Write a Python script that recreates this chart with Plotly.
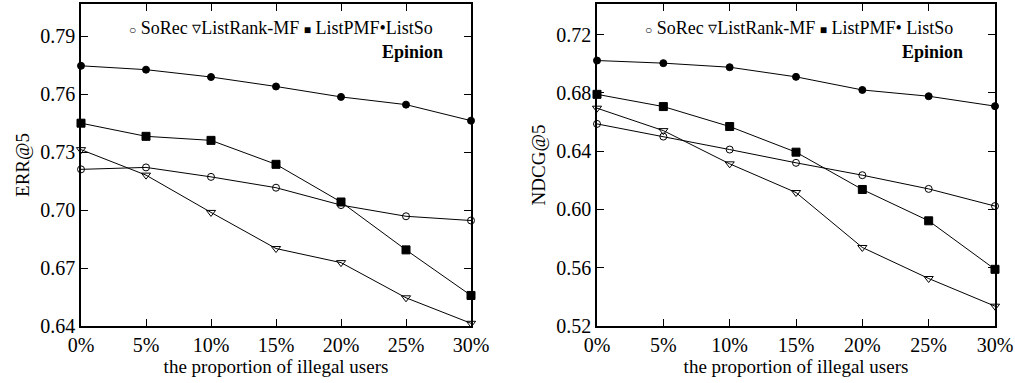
import plotly.graph_objects as go
from plotly.subplots import make_subplots

# Proportion of illegal users (x axis)
proportions = [0, 5, 10, 15, 20, 25, 30]
tick_labels = ["0%", "5%", "10%", "15%", "20%", "25%", "30%"]

# ERR@5 on Epinion
err_sorec = [0.7211, 0.7221, 0.7172, 0.7116, 0.7026, 0.6968, 0.6946]
err_listrank = [0.7313, 0.7181, 0.6988, 0.6801, 0.6728, 0.6546, 0.6414]
err_listpmf = [0.7450, 0.7382, 0.7361, 0.7237, 0.7042, 0.6794, 0.6558]
err_listso = [0.7747, 0.7727, 0.7689, 0.7640, 0.7586, 0.7546, 0.7463]

# NDCG@5 on Epinion
ndcg_sorec = [0.6587, 0.6500, 0.6411, 0.6320, 0.6235, 0.6141, 0.6023]
ndcg_listrank = [0.6695, 0.6541, 0.6313, 0.6116, 0.5739, 0.5526, 0.5336]
ndcg_listpmf = [0.6790, 0.6706, 0.6569, 0.6393, 0.6137, 0.5922, 0.5589]
ndcg_listso = [0.7022, 0.7004, 0.6976, 0.6910, 0.6820, 0.6777, 0.6709]

err_ticks = [0.64, 0.67, 0.70, 0.73, 0.76, 0.79]
ndcg_ticks = [0.52, 0.56, 0.60, 0.64, 0.68, 0.72]

FONT = "Liberation Serif"

styles = [
    ("SoRec", dict(symbol="circle-open", size=7)),
    ("ListRank-MF", dict(symbol="triangle-down-open", size=8)),
    ("ListPMF", dict(symbol="square", size=8)),
    ("ListSo", dict(symbol="circle", size=7)),
]

fig = make_subplots(rows=1, cols=2)

panels = [
    (1, [err_sorec, err_listrank, err_listpmf, err_listso]),
    (2, [ndcg_sorec, ndcg_listrank, ndcg_listpmf, ndcg_listso]),
]
for col, series in panels:
    for (name, mk), ys in zip(styles, series):
        fig.add_trace(
            go.Scatter(
                x=proportions, y=ys, name=name, mode="lines+markers",
                line=dict(color="black", width=1),
                marker=dict(color="black", line=dict(color="black", width=1), **mk),
                showlegend=False, cliponaxis=False,
            ),
            row=1, col=col,
        )

axis_common = dict(
    showline=True, linecolor="black", linewidth=1.5, mirror="ticks",
    ticks="inside", ticklen=7, tickcolor="black", tickwidth=1,
    showgrid=False, zeroline=False, automargin=False,
    tickfont=dict(family=FONT, size=20, color="black"),
)

y_bottom, y_top = 1 - 326 / 383, 1 - 4 / 383
fig.update_xaxes(
    **axis_common, range=[0, 30], tickvals=proportions, ticktext=tick_labels,
    title=dict(text="the proportion of illegal users",
               font=dict(family=FONT, size=19, color="black"), standoff=2),
)
fig.update_xaxes(domain=[81 / 1015, 471 / 1015], row=1, col=1)
fig.update_xaxes(domain=[597 / 1015, 995 / 1015], row=1, col=2)

fig.update_yaxes(**axis_common, domain=[y_bottom, y_top])
fig.update_yaxes(
    range=[0.64, 0.8067], tickvals=err_ticks,
    ticktext=[f"{v:.2f}" for v in err_ticks],
    title=dict(text="ERR@5", font=dict(family=FONT, size=19, color="black"), standoff=6),
    row=1, col=1,
)
fig.update_yaxes(
    range=[0.52, 0.741], tickvals=ndcg_ticks,
    ticktext=[f"{v:.2f}" for v in ndcg_ticks],
    title=dict(text="NDCG@5", font=dict(family=FONT, size=19, color="black"), standoff=6),
    row=1, col=2,
)

# Text key inside each panel, with the dataset name underneath
small = '<span style="font-size:12px">{}</span>'
key_left = f"{small.format('○')} SoRec ▿ListRank-MF {small.format('■')} ListPMF•ListSo"
key_right = f"{small.format('○')} SoRec ▿ListRank-MF {small.format('■')} ListPMF• ListSo"
keys = [
    ("x domain", "y domain", key_left, 0.908, 0.933),
    ("x2 domain", "y2 domain", key_right, 0.8995, 0.925),
]
for xref, yref, key_text, key_x, name_x in keys:
    fig.add_annotation(
        text=key_text, xref=xref, yref=yref, x=key_x, y=0.925,
        xanchor="right", yanchor="middle", showarrow=False,
        font=dict(family=FONT, size=18, color="black"),
    )
    fig.add_annotation(
        text="<b>Epinion</b>", xref=xref, yref=yref, x=name_x, y=0.851,
        xanchor="right", yanchor="middle", showarrow=False,
        font=dict(family=FONT, size=18, color="black"),
    )

fig.update_layout(
    width=1015, height=383,
    margin=dict(l=0, r=0, t=0, b=0),
    paper_bgcolor="white", plot_bgcolor="white",
    font=dict(family=FONT, color="black"),
)

fig.write_html("out.html")
